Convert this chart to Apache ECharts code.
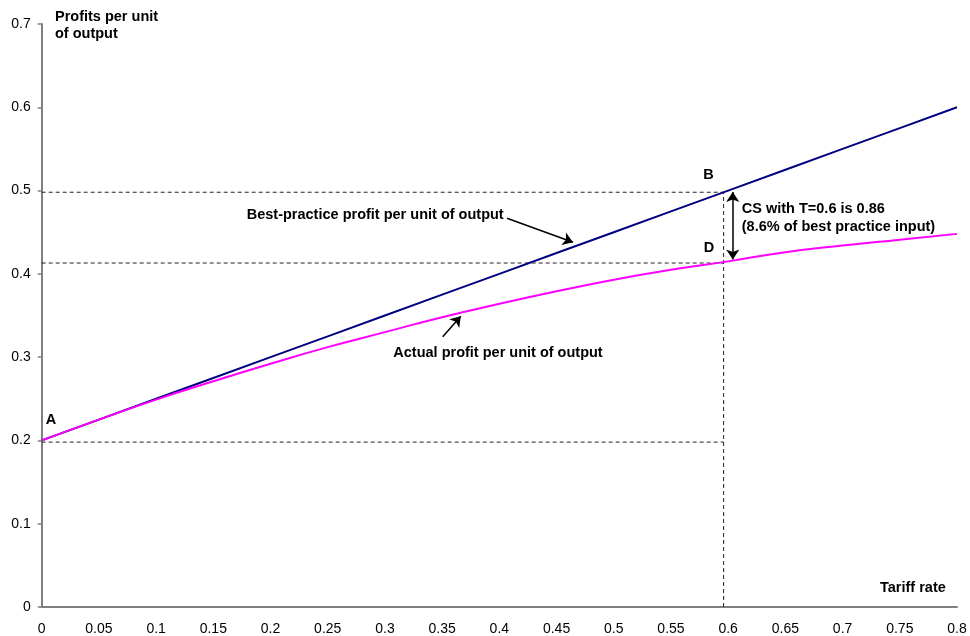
<!DOCTYPE html>
<html>
<head>
<meta charset="utf-8">
<script src="https://cdn.jsdelivr.net/npm/echarts@6/dist/echarts.min.js"></script>
<style>
html,body{margin:0;padding:0;background:#fff;}
#chart{width:970px;height:636px;}
</style>
</head>
<body>
<div id="chart"></div>
<script>
// Tariff rate (x) values
var tariff = [0, 0.05, 0.1, 0.15, 0.2, 0.25, 0.3, 0.35, 0.4, 0.45, 0.5, 0.55, 0.6, 0.65, 0.7, 0.75, 0.8];
// Best-practice profit per unit of output
var bestPractice = [0.200, 0.225, 0.250, 0.275, 0.300, 0.325, 0.350, 0.375, 0.400, 0.425, 0.450, 0.475, 0.500, 0.525, 0.550, 0.575, 0.600];
// Actual profit per unit of output
var actual = [0.200, 0.225, 0.249, 0.271, 0.292, 0.312, 0.330, 0.348, 0.364, 0.379, 0.393, 0.405, 0.415, 0.426, 0.434, 0.441, 0.448];
// Reference (dashed) values
var refT = 0.596, refB = 0.498, refD = 0.413, refA = 0.198;
// Annotation texts with positions in data units
var annotations = [
  [0.0081, 0.225, 'A', 'center'],
  [0.5829, 0.519, 'B', 'center'],
  [0.5833, 0.431, 'D', 'center'],
  [0.1792, 0.4704, 'Best-practice profit per unit of output', 'left'],
  [0.3073, 0.3052, 'Actual profit per unit of output', 'left'],
  [0.6119, 0.4784, 'CS with T=0.6 is 0.86', 'left'],
  [0.6119, 0.4564, '(8.6% of best practice input)', 'left']
];
// Arrows [x1, y1, x2, y2]
var arrowBest = [0.4067, 0.4668, 0.4644, 0.4380];
var arrowActual = [0.3505, 0.3244, 0.3663, 0.3492];
var arrowCS = [0.604, 0.4984, 0.604, 0.4173];

function pairs(xs, ys){ return xs.map(function(x,i){ return [x, ys[i]]; }); }
function arrow(a){ return {coords:[[a[0],a[1]],[a[2],a[3]]]}; }

var dashStyle = {color:'#222', width:1, type:[4,3]};

var chart = echarts.init(document.getElementById('chart'), null, {renderer:'canvas'});
chart.setOption({
  animation:false,
  backgroundColor:'#fff',
  grid:{left:41.7, right:13, top:24, bottom:29, containLabel:false},
  xAxis:{
    type:'value', min:0, max:0.8, interval:0.05,
    axisLine:{show:true, lineStyle:{color:'#808080', width:2}},
    axisTick:{show:false},
    splitLine:{show:false},
    axisLabel:{fontFamily:'Liberation Sans', fontSize:14, color:'#000', margin:15}
  },
  yAxis:{
    type:'value', min:0, max:0.7, interval:0.1,
    axisLine:{show:true, lineStyle:{color:'#808080', width:2}},
    axisTick:{show:true, length:4, lineStyle:{color:'#808080', width:1.5}},
    splitLine:{show:false},
    axisLabel:{fontFamily:'Liberation Sans', fontSize:14, color:'#000', margin:11}
  },
  graphic:[
    {type:'text', left:55, top:8, style:{text:'Profits per unit\nof output', font:'bold 14.5px "Liberation Sans"', fill:'#000', lineHeight:17}},
    {type:'text', left:880, top:580, style:{text:'Tariff rate', font:'bold 14.5px "Liberation Sans"', fill:'#000'}}
  ],
  series:[
    {type:'line', data:[[0,refB],[refT,refB]], symbol:'none', lineStyle:dashStyle, silent:true},
    {type:'line', data:[[0,refD],[refT,refD]], symbol:'none', lineStyle:dashStyle, silent:true},
    {type:'line', data:[[0,refA],[refT,refA]], symbol:'none', lineStyle:dashStyle, silent:true},
    {type:'line', data:[[refT,0],[refT,refB]], symbol:'none', lineStyle:dashStyle, silent:true},
    {type:'line', name:'Best-practice', data:pairs(tariff, bestPractice), symbol:'none', smooth:false,
      lineStyle:{color:'#000080', width:2}},
    {type:'line', name:'Actual', data:pairs(tariff, actual), symbol:'none', smooth:true,
      lineStyle:{color:'#FF00FF', width:2}},
    {type:'lines', coordinateSystem:'cartesian2d', silent:true,
      symbol:['none','arrow'], symbolSize:10,
      lineStyle:{color:'#000', width:1.5, opacity:1},
      data:[arrow(arrowBest), arrow(arrowActual)]},
    {type:'lines', coordinateSystem:'cartesian2d', silent:true,
      symbol:['arrow','arrow'], symbolSize:10,
      lineStyle:{color:'#000', width:1.5, opacity:1},
      data:[arrow(arrowCS)]},
    {type:'scatter', symbolSize:0, silent:true, itemStyle:{opacity:1},
      data:annotations.map(function(a){ return {value:[a[0], a[1]], name:a[2], label:{align:a[3]}}; }),
      label:{show:true, position:'inside', verticalAlign:'middle', opacity:1,
        fontFamily:'Liberation Sans', fontWeight:'bold', fontSize:14.5, color:'#000',
        textBorderWidth:0, formatter:function(p){ return p.name; }}
    }
  ]
});
</script>
</body>
</html>
